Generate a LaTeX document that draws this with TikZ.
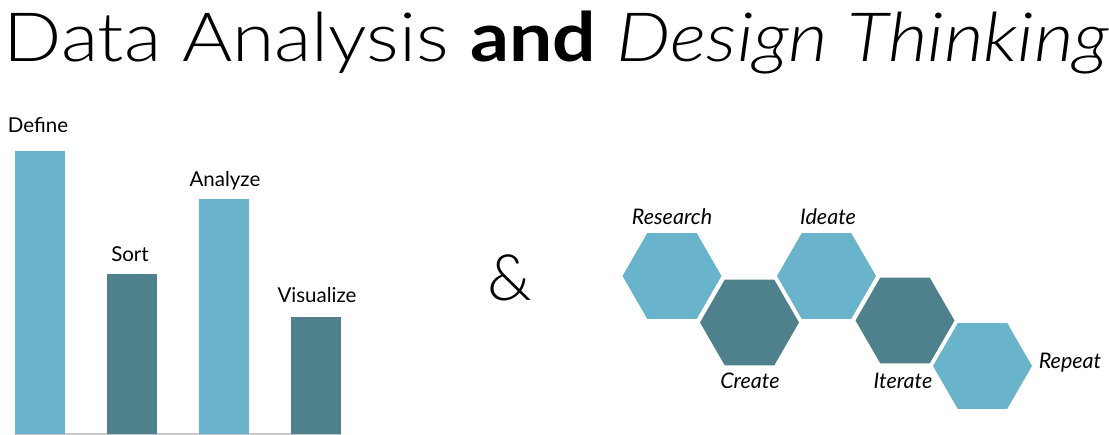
\documentclass[tikz,border=0pt]{standalone}
\usepackage{fontspec}
\setmainfont{Lato}
\newfontfamily\thinfont{Lato}[UprightFont=* Light, ItalicFont=* Light Italic, BoldFont=* Bold]
\usepackage{xcolor}
\usepackage{graphicx}
\definecolor{lightteal}{HTML}{6AB4CB}
\definecolor{darkteal}{HTML}{4F818D}
\definecolor{axisgray}{HTML}{C8C8C8}
\usetikzlibrary{shapes.geometric, positioning}

\begin{document}
\begin{tikzpicture}[
  x=1pt, y=-1pt,
  bar/.style={rectangle, anchor=south, minimum width=50pt, inner sep=0pt, draw=none},
  hexa/.style={regular polygon, regular polygon sides=6, minimum size=99pt, inner sep=0pt, draw=none},
  lbl/.style={font=\fontsize{20.5}{20.5}\selectfont, inner sep=0pt},
  hlbl/.style={font=\fontsize{21.5}{21.5}\selectfont\itshape, inner sep=0pt}
]
\useasboundingbox (0,0) rectangle (1109,435);
\node[font=\thinfont\fontsize{68}{68}\selectfont, inner sep=0pt, anchor=base] (title) at (556.5,62) {\scalebox{1.13}[1]{Data Analysis \textbf{and} \textit{Design Thinking}}};
% bar chart
\draw[axisgray, line width=1.5pt] (15,434) coordinate (axl) -- (341,434) coordinate (axr);
\node[bar, fill=lightteal, minimum height=283pt] (define) at (40,434) {};
\node[bar, fill=darkteal, minimum height=160pt] (sort) at (132,434) {};
\node[bar, fill=lightteal, minimum height=235pt] (analyze) at (224,434) {};
\node[bar, fill=darkteal, minimum height=117pt] (visualize) at (316,434) {};
\node[lbl] (tdefine) at (38,125) {Define};
\node[lbl] (tsort) at (130,254) {Sort};
\node[lbl] (tanalyze) at (225,181) {Analyze};
\node[lbl] (tvisualize) at (317,295) {Visualize};
\node[font=\thinfont\fontsize{64}{64}\selectfont, inner sep=0pt] (amp) at (510,278) {\&};
% hexagons
\node[hexa, fill=lightteal] (research) at (672,276) {};
\node[hexa, fill=darkteal] (create) at (749.5,322.5) {};
\node[hexa, fill=lightteal] (ideate) at (826.5,276) {};
\node[hexa, fill=darkteal] (iterate) at (905,320.5) {};
\node[hexa, fill=lightteal] (repeat) at (982.5,366) {};
\node[hlbl] (tresearch) at (672,217) {Research};
\node[hlbl] (tideate) at (828,217) {Ideate};
\node[hlbl] (tcreate) at (750,381) {Create};
\node[hlbl] (titerate) at (903,381) {Iterate};
\node[hlbl] (trepeat) at (1070,363) {Repeat};
\end{tikzpicture}
\end{document}
